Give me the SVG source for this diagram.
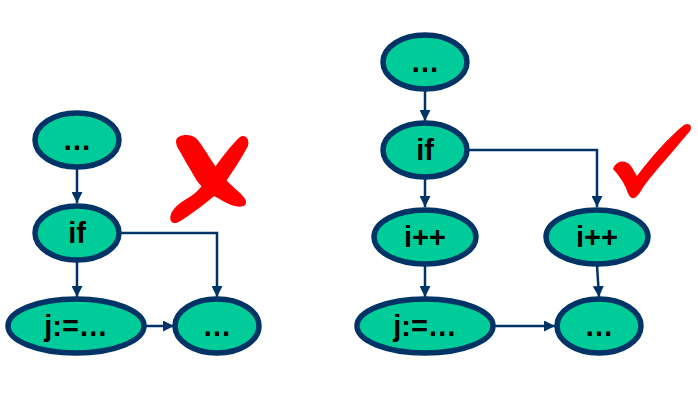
<svg xmlns="http://www.w3.org/2000/svg" width="698" height="404" viewBox="0 0 698 404">
<defs>
<style>
.n ellipse{fill:#00CC99;stroke:#003366;stroke-width:5.5}
.n text{font-family:"Liberation Sans",Arial,sans-serif;font-weight:bold;font-size:29px;fill:#000;text-anchor:middle}
.c path{fill:none;stroke:#003366;stroke-width:2.5;marker-end:url(#ah)}
.mark{fill:#FF0000}
</style>
<marker id="ah" viewBox="0 0 10 10" refX="10" refY="5" markerWidth="4.4" markerHeight="4.4" orient="auto" markerUnits="strokeWidth">
<path d="M0,0 L10,5 L0,10 Z" fill="#003366"/>
</marker>
</defs>
<rect width="698" height="404" fill="#fff"/>
<g id="connectors" class="c">
<path d="M77,168 V203"/>
<path d="M120,233 H217 V297"/>
<path d="M77,262 V297"/>
<path d="M145,326 H174"/>
<path d="M425,90 V121"/>
<path d="M468,150 H597 V207"/>
<path d="M425,178 V207"/>
<path d="M425,265 V297"/>
<path d="M597,265 L599,297"/>
<path d="M494,326 H555"/>
</g>
<g id="L_top" class="n"><ellipse cx="77" cy="140" rx="42" ry="27"/><text x="77" y="150">…</text></g>
<g id="L_if" class="n"><ellipse cx="77" cy="233" rx="42" ry="27"/><text x="77" y="243">if</text></g>
<g id="L_j" class="n"><ellipse cx="76" cy="326" rx="68" ry="27"/><text x="76" y="336">j:=…</text></g>
<g id="L_end" class="n"><ellipse cx="217" cy="326" rx="42" ry="27"/><text x="217" y="336">…</text></g>
<g id="R_top" class="n"><ellipse cx="425" cy="62" rx="42" ry="27"/><text x="425" y="72">…</text></g>
<g id="R_if" class="n"><ellipse cx="425" cy="150" rx="42" ry="27"/><text x="425" y="160">if</text></g>
<g id="R_inc1" class="n"><ellipse cx="425" cy="237" rx="51" ry="27"/><text x="425" y="247">i++</text></g>
<g id="R_inc2" class="n"><ellipse cx="597" cy="237" rx="51" ry="27"/><text x="597" y="247">i++</text></g>
<g id="R_j" class="n"><ellipse cx="425" cy="326" rx="68" ry="27"/><text x="425" y="336">j:=…</text></g>
<g id="R_end" class="n"><ellipse cx="599" cy="326" rx="42" ry="27"/><text x="599" y="336">…</text></g>
<g id="cross" class="mark">
<path d="M176,141 C177,134 191,133 197,139 C206,150 216,170 228,182 C236,190 244,195 246,201 C247,208 238,208 229,204 C215,197 204,191 197,181 C190,169 183,157 179,150 C177,147 176,144 176,141 Z"/>
<path d="M240,137 C245,134 250,139 248,146 C241,159 230,176 220,190 C211,200 199,208 188,216 C181,221 174,226 171,221 C168,213 177,204 188,198 C198,192 204,184 210,174 C220,160 231,145 240,137 Z"/>
</g>
<g id="check" class="mark">
<path d="M613,169 C616,160 626,159 631,166 L637,176 C652,156 668,138 684,125 C689,122 693,126 690,131 C676,148 656,170 644,186 C640,192 638,197 634,198 C630,199 628,194 626,188 C622,180 618,174 613,169 Z"/>
</g>
</svg>
